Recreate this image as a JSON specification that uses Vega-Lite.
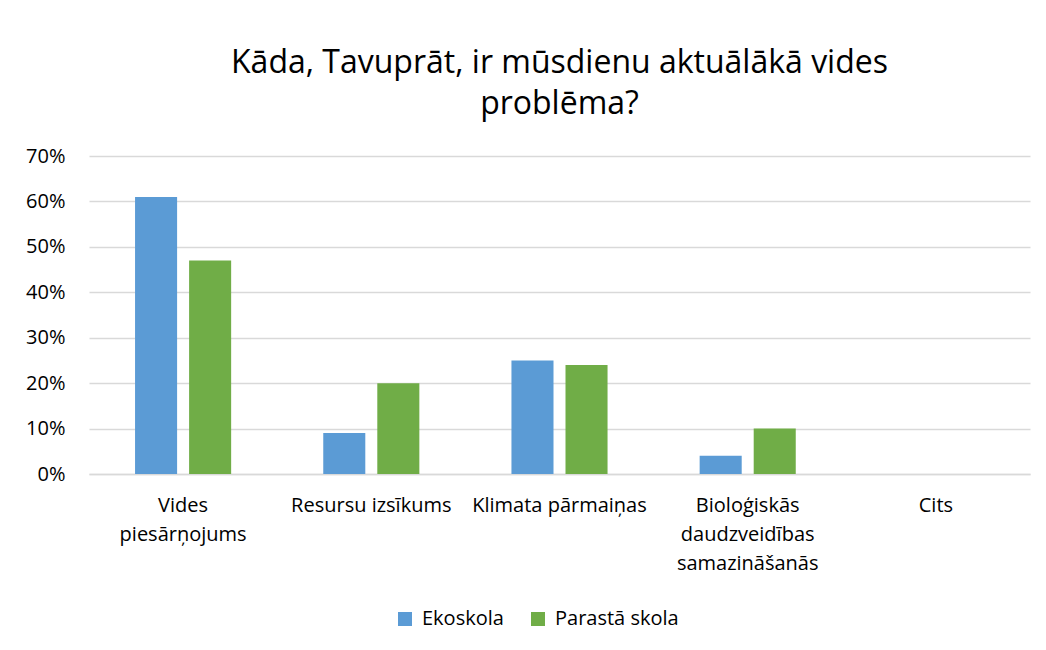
{
  "$schema": "https://vega.github.io/schema/vega-lite/v6.json",
  "autosize": {"type": "none"},
  "width": 941,
  "height": 318,
  "padding": {"left": 89, "top": 156, "right": 16, "bottom": 176},
  "background": "white",
  "title": {
    "text": ["Kāda, Tavuprāt, ir mūsdienu aktuālākā vides", "problēma?"],
    "font": "Open Sans",
    "fontSize": 32,
    "fontWeight": "normal",
    "color": "#000000",
    "lineHeight": 41,
    "anchor": "middle",
    "offset": 25
  },
  "data": {
    "values": [
      {"kategorija": "Vides piesārņojums", "skola": "Ekoskola", "vertiba": 0.61},
      {"kategorija": "Vides piesārņojums", "skola": "Parastā skola", "vertiba": 0.47},
      {"kategorija": "Resursu izsīkums", "skola": "Ekoskola", "vertiba": 0.09},
      {"kategorija": "Resursu izsīkums", "skola": "Parastā skola", "vertiba": 0.20},
      {"kategorija": "Klimata pārmaiņas", "skola": "Ekoskola", "vertiba": 0.25},
      {"kategorija": "Klimata pārmaiņas", "skola": "Parastā skola", "vertiba": 0.24},
      {"kategorija": "Bioloģiskās daudzveidības samazināšanās", "skola": "Ekoskola", "vertiba": 0.04},
      {"kategorija": "Bioloģiskās daudzveidības samazināšanās", "skola": "Parastā skola", "vertiba": 0.10},
      {"kategorija": "Cits", "skola": "Ekoskola", "vertiba": 0},
      {"kategorija": "Cits", "skola": "Parastā skola", "vertiba": 0}
    ]
  },
  "mark": {"type": "bar"},
  "encoding": {
    "x": {
      "field": "kategorija",
      "type": "nominal",
      "sort": null,
      "scale": {"paddingInner": 0, "paddingOuter": 0},
      "axis": {
        "title": null,
        "labelAngle": 0,
        "ticks": false,
        "domain": true,
        "domainColor": "#d9d9d9",
        "domainWidth": 1.5,
        "labelFont": "Open Sans",
        "labelFontSize": 20,
        "labelColor": "#000000",
        "labelLineHeight": 29,
        "labelPadding": 21,
        "labelBaseline": "top",
        "labelExpr": "(datum.label == 'Resursu izsīkums' || datum.label == 'Klimata pārmaiņas') ? datum.label : split(datum.label, ' ')"
      }
    },
    "xOffset": {
      "field": "skola",
      "type": "nominal",
      "sort": ["Ekoskola", "Parastā skola"],
      "scale": {"paddingInner": 0.222, "paddingOuter": 0.852}
    },
    "y": {
      "field": "vertiba",
      "type": "quantitative",
      "scale": {"domain": [0, 0.7]},
      "axis": {
        "title": null,
        "format": ".0%",
        "values": [0, 0.1, 0.2, 0.3, 0.4, 0.5, 0.6, 0.7],
        "domain": false,
        "ticks": false,
        "grid": true,
        "gridColor": "#d9d9d9",
        "gridWidth": 1.5,
        "labelFont": "Open Sans",
        "labelFontSize": 20,
        "labelColor": "#000000",
        "labelPadding": 24
      }
    },
    "color": {
      "field": "skola",
      "type": "nominal",
      "sort": ["Ekoskola", "Parastā skola"],
      "scale": {"domain": ["Ekoskola", "Parastā skola"], "range": ["#5B9BD5", "#70AD47"]},
      "legend": {
        "title": null,
        "orient": "none",
        "legendX": 306,
        "legendY": 453,
        "direction": "horizontal",
        "symbolType": "square",
        "symbolSize": 196,
        "symbolStrokeWidth": 0,
        "labelFont": "Open Sans",
        "labelFontSize": 20,
        "labelColor": "#000000",
        "labelOffset": 7,
        "columnPadding": 24,
        "padding": 0
      }
    }
  },
  "config": {
    "view": {"stroke": null},
    "legend": {"symbolOpacity": 1}
  }
}
